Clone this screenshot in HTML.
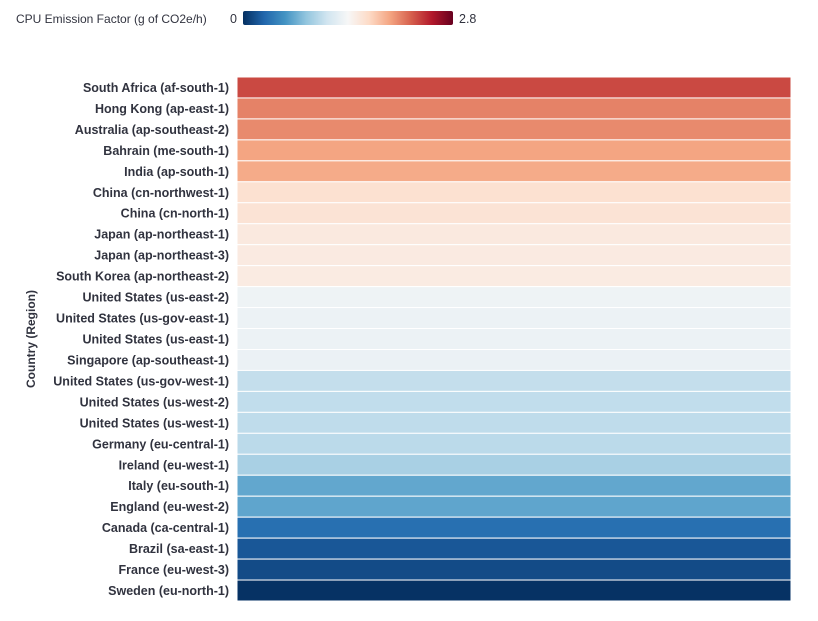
<!DOCTYPE html>
<html><head><meta charset="utf-8"><style>
body{margin:0;background:#fff;font-family:"Liberation Sans",sans-serif}
svg text{font-family:"Liberation Sans",sans-serif}
</style></head><body>
<svg id="chart" width="818" height="616">
<defs><linearGradient id="cb" x1="0" x2="1" y1="0" y2="0">
<stop offset="0" stop-color="#053061"/><stop offset="0.1" stop-color="#2166ac"/><stop offset="0.2" stop-color="#4393c3"/><stop offset="0.3" stop-color="#92c5de"/><stop offset="0.4" stop-color="#d1e5f0"/><stop offset="0.5" stop-color="#f7f7f7"/><stop offset="0.6" stop-color="#fddbc7"/><stop offset="0.7" stop-color="#f4a582"/><stop offset="0.8" stop-color="#d6604d"/><stop offset="0.9" stop-color="#b2182b"/><stop offset="1" stop-color="#67001f"/>
</linearGradient></defs>
<text x="16" y="23" font-size="12" fill="#31333f">CPU Emission Factor (g of CO2e/h)</text>
<text x="230" y="23" font-size="12.5" fill="#31333f">0</text>
<rect x="243" y="11" width="210" height="14" rx="2" fill="url(#cb)"/>
<text x="459" y="23" font-size="12.5" fill="#31333f">2.8</text>
<text transform="translate(35,339) rotate(-90)" text-anchor="middle" font-size="12" font-weight="bold" fill="#31333f">Country (Region)</text>
<g id="cells"></g>
</svg>
<script>
const regions=["South Africa (af-south-1)","Hong Kong (ap-east-1)","Australia (ap-southeast-2)","Bahrain (me-south-1)","India (ap-south-1)","China (cn-northwest-1)","China (cn-north-1)","Japan (ap-northeast-1)","Japan (ap-northeast-3)","South Korea (ap-northeast-2)","United States (us-east-2)","United States (us-gov-east-1)","United States (us-east-1)","Singapore (ap-southeast-1)","United States (us-gov-west-1)","United States (us-west-2)","United States (us-west-1)","Germany (eu-central-1)","Ireland (eu-west-1)","Italy (eu-south-1)","England (eu-west-2)","Canada (ca-central-1)","Brazil (sa-east-1)","France (eu-west-3)","Sweden (eu-north-1)"];
const values=[2.33,2.1,2.07,1.96,1.93,1.62,1.6,1.54,1.53,1.52,1.33,1.32,1.32,1.31,1.06,1.05,1.04,1.02,0.94,0.67,0.66,0.34,0.2,0.14,0.01];
const zMin=0,zMax=2.8;
const stops=[[5,48,97],[33,102,172],[67,147,195],[146,197,222],[209,229,240],[247,247,247],[253,219,199],[244,165,130],[214,96,77],[178,24,43],[103,0,31]];
function color(v){let t=Math.max(0,Math.min(1,(v-zMin)/(zMax-zMin)))*10;let i=Math.min(9,Math.floor(t)),f=t-i;
const c=stops[i].map((a,k)=>Math.round(a+(stops[i+1][k]-a)*f));return `rgb(${c})`;}
const x0=237,x1=791,y0=77,y1=601,rh=(y1-y0)/regions.length;
function yPos(i){return y0+i*rh;}
const g=document.getElementById('cells'),NS="http://www.w3.org/2000/svg";
regions.forEach((r,i)=>{
 const rect=document.createElementNS(NS,'rect');
 rect.setAttribute('x',x0);rect.setAttribute('y',yPos(i));rect.setAttribute('width',x1-x0);rect.setAttribute('height',rh);
 rect.setAttribute('fill',color(values[i]));rect.setAttribute('stroke','#fff');rect.setAttribute('stroke-width','1');
 
 
 g.appendChild(rect);
 const t=document.createElementNS(NS,'text');
 t.setAttribute('x',229);t.setAttribute('y',yPos(i)+rh/2+4.5);t.setAttribute('text-anchor','end');
 t.setAttribute('font-size','12.5');t.setAttribute('font-weight','bold');t.setAttribute('fill','#31333f');
 t.textContent=r;
 
 
 g.appendChild(t);
});
</script>
</body></html>
